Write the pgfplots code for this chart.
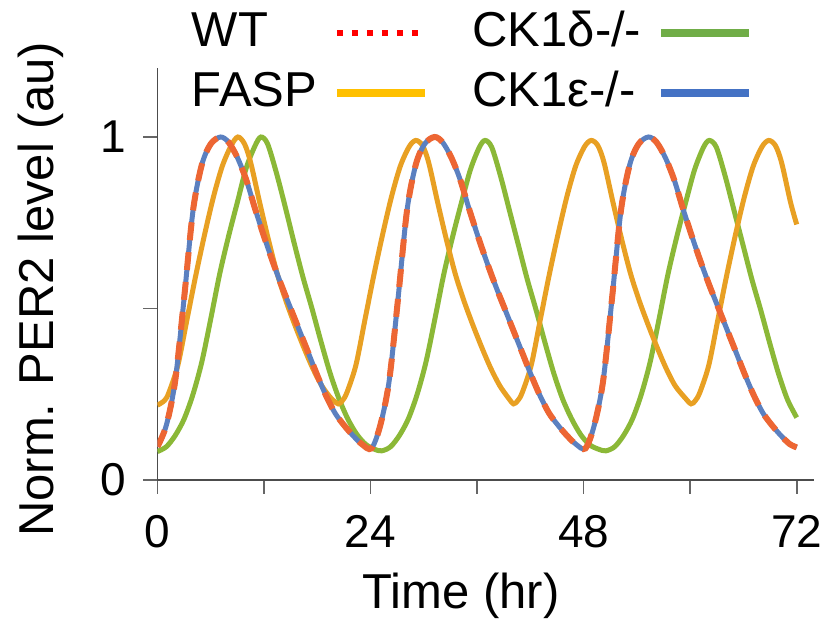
\documentclass[border=0pt]{standalone}
\usepackage{pgfplots}
\pgfplotsset{compat=1.18}
\usepackage{pgfplotstable}
\usepackage{fontspec}
\setmainfont{Liberation Sans}

\definecolor{cBlue}{RGB}{91,128,192}
\definecolor{cGreen}{RGB}{139,184,55}
\definecolor{cOrange}{RGB}{232,160,35}
\definecolor{cRed}{RGB}{237,102,51}
\definecolor{lgYellow}{RGB}{255,192,0}
\definecolor{lgGreen}{RGB}{112,173,71}
\definecolor{lgBlue}{RGB}{68,114,196}

% CK1epsilon-/- (and WT, which overlaps it)
\pgfplotstableread{
t y
0 0.097
1 0.16
2 0.29
3 0.53
4 0.785
5 0.92
6 0.98
7.1 1.0
8 0.985
9 0.94
10 0.875
11 0.79
12 0.71
13 0.635
14 0.565
15 0.50
16 0.435
17 0.37
18 0.305
19 0.245
20 0.195
21 0.16
22 0.13
23 0.105
24.1 0.092
25.1 0.16
26.1 0.29
27.1 0.53
28.1 0.785
29.1 0.92
30.1 0.98
31.2 1.0
32.1 0.985
33.1 0.94
34.1 0.875
35.1 0.79
36.1 0.71
37.1 0.635
38.1 0.565
39.1 0.50
40.1 0.435
41.1 0.37
42.1 0.305
43.1 0.245
44.1 0.195
45.1 0.16
46.1 0.13
47.1 0.105
48.2 0.092
49.2 0.16
50.2 0.29
51.2 0.53
52.2 0.785
53.2 0.92
54.2 0.98
55.3 1.0
56.2 0.985
57.2 0.94
58.2 0.875
59.2 0.79
60.2 0.71
61.2 0.635
62.2 0.565
63.2 0.50
64.2 0.435
65.2 0.37
66.2 0.305
67.2 0.245
68.2 0.195
69.2 0.16
70.2 0.13
71.2 0.105
72 0.095
}\epsdata

% CK1delta-/-
\pgfplotstableread{
t y
0 0.083
1 0.097
2 0.13
3 0.178
4 0.25
5 0.345
6 0.47
7 0.60
8 0.71
9 0.81
10 0.91
11 0.975
11.65 1.0
12.4 0.98
13.4 0.895
14.4 0.795
15.4 0.69
16.4 0.59
17.4 0.50
18.4 0.405
19.4 0.315
20.4 0.24
21.4 0.18
22.4 0.135
23.4 0.105
24.4 0.09
25.25 0.085
26.25 0.097
27.25 0.13
28.25 0.178
29.25 0.25
30.25 0.345
31.25 0.47
32.25 0.60
33.25 0.71
34.25 0.81
35.25 0.905
36.25 0.97
36.9 0.99
37.65 0.97
38.65 0.885
39.65 0.785
40.65 0.685
41.65 0.585
42.65 0.495
43.65 0.40
44.65 0.31
45.65 0.235
46.65 0.178
47.65 0.133
48.65 0.103
49.65 0.09
50.5 0.085
51.5 0.097
52.5 0.13
53.5 0.178
54.5 0.25
55.5 0.345
56.5 0.47
57.5 0.60
58.5 0.71
59.5 0.81
60.5 0.905
61.5 0.97
62.15 0.99
62.95 0.97
63.95 0.885
64.95 0.785
65.95 0.685
66.95 0.585
67.95 0.495
68.95 0.40
69.95 0.31
70.95 0.235
72 0.182
}\deltadata

% FASP
\pgfplotstableread{
t y
0 0.218
0.8 0.232
1.3 0.256
2.3 0.335
3.3 0.465
4.3 0.595
5.3 0.715
6.3 0.825
7.3 0.915
8.3 0.975
9.05 1.0
9.8 0.98
10.5 0.925
11.5 0.81
12.5 0.70
13.5 0.60
14.5 0.52
15.5 0.45
16.5 0.385
17.5 0.325
18.5 0.275
19.5 0.24
20.35 0.222
20.85 0.232
21.35 0.256
22.35 0.335
23.35 0.465
24.35 0.595
25.35 0.715
26.35 0.825
27.35 0.915
28.35 0.972
29.1 0.99
29.85 0.975
30.55 0.925
31.55 0.81
32.55 0.70
33.55 0.60
34.55 0.52
35.55 0.45
36.55 0.385
37.55 0.325
38.55 0.275
39.5 0.24
40.1 0.222
40.6 0.232
41.1 0.256
42.1 0.335
43.1 0.465
44.1 0.595
45.1 0.715
46.1 0.825
47.1 0.915
48.1 0.972
48.85 0.99
49.6 0.975
50.3 0.925
51.3 0.81
52.3 0.70
53.3 0.60
54.3 0.52
55.3 0.45
56.3 0.385
57.3 0.325
58.3 0.275
59.4 0.24
60.1 0.222
60.6 0.232
61.1 0.256
62.1 0.335
63.1 0.465
64.1 0.595
65.1 0.715
66.1 0.825
67.1 0.915
68.1 0.972
68.85 0.99
69.6 0.975
70.3 0.925
71.3 0.81
72 0.745
}\faspdata

\begin{document}
\begin{tikzpicture}
\useasboundingbox (-78.75pt,-70.5pt) rectangle (334.75pt,240pt);
\begin{axis}[
  at={(0pt,0pt)}, anchor=south west,
  scale only axis, width=328.5pt, height=205.8pt,
  xmin=0, xmax=74, ymin=0, ymax=1.2,
  axis x line*=bottom, axis y line*=left,
  axis line style={black!70, line width=0.8pt},
  xtick={0,12,...,72}, xticklabels={0,,24,,48,,72},
  ytick={0,0.5,1}, yticklabels={0,,1},
  tick align=outside, major tick length=7pt,
  tick style={black!60, line width=0.8pt},
  /pgf/number format/assume math mode=true,
  tick label style={font=\fontsize{23}{27}\selectfont},
  xticklabel style={anchor=north, inner sep=0pt, yshift=-10.5pt},
  yticklabel style={anchor=east, inner sep=0pt, xshift=-8.4pt},
  xlabel={Time (hr)}, ylabel={Norm. PER2 level (au)},
  label style={font=\fontsize{24.5}{29}\selectfont},
  xlabel style={at={(axis description cs:0.462,-0.312)}, anchor=base, inner sep=0pt},
  ylabel style={at={(axis description cs:-0.159,0.463)}, anchor=base, inner sep=0pt},
  legend cell align=left, legend plot pos=right, legend columns=2,
  legend image code/.code={\draw[#1] (0pt,0pt) -- (44pt,0pt);},
  legend style={at={(0.0525,1.140)}, anchor=north west, draw=none, fill=none,
    inner sep=0pt, outer sep=0pt, font=\fontsize{24.5}{29}\selectfont,
    row sep=7.7pt, column sep=8pt, /tikz/column 2/.style={column sep=22pt},
    nodes={inner sep=0pt, text height=18pt, text depth=4.3pt}},
]
\addlegendimage{red, line width=3.3pt, dash pattern=on 3.3pt off 4.2pt}
\addlegendentry{WT}
\addlegendimage{lgGreen, line width=3.6pt}
\addlegendentry{CK1δ-/-}
\addlegendimage{lgYellow, line width=3.6pt}
\addlegendentry{FASP}
\addlegendimage{lgBlue, line width=3.6pt}
\addlegendentry{CK1ε-/-}

\addplot[cGreen, line width=2.5pt, smooth, forget plot] table[x=t,y=y] {\deltadata};
\addplot[cOrange, line width=2.5pt, smooth, forget plot] table[x=t,y=y] {\faspdata};
\addplot[cBlue, line width=2.5pt, smooth, forget plot] table[x=t,y=y] {\epsdata};
\addplot[cRed, line width=3pt, dash pattern=on 9pt off 6pt, smooth, forget plot] table[x=t,y=y] {\epsdata};
\end{axis}
\end{tikzpicture}
\end{document}
